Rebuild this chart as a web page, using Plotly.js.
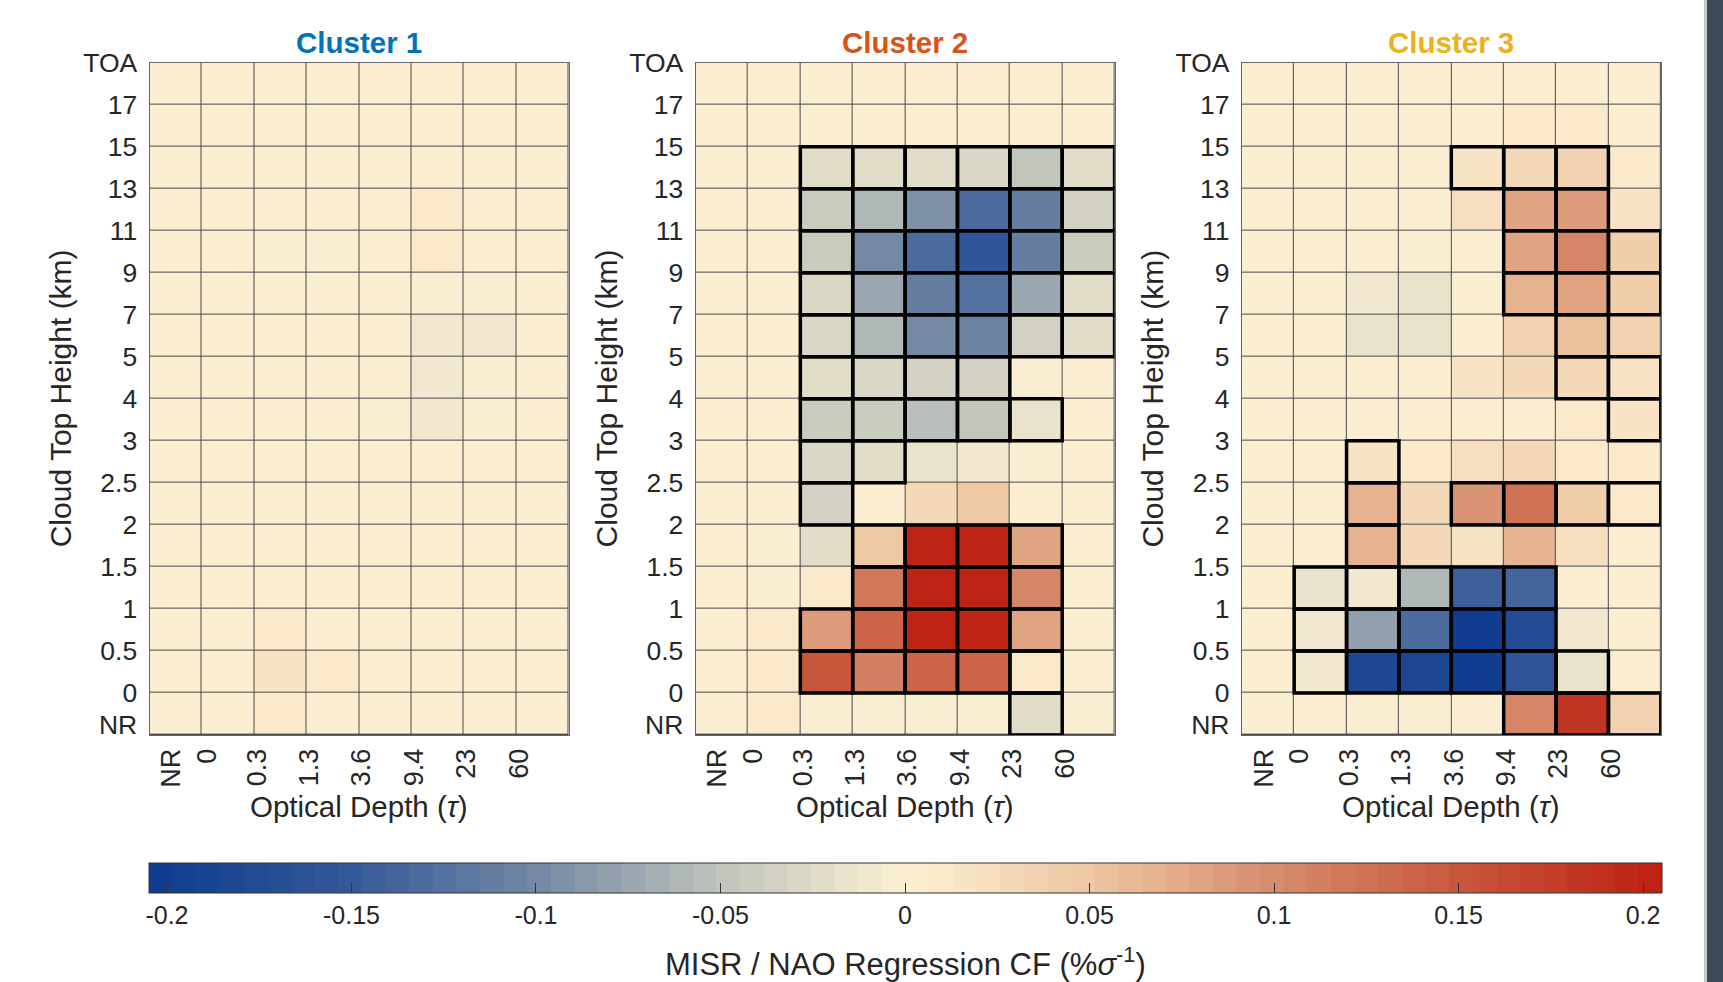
<!DOCTYPE html>
<html>
<head>
<meta charset="utf-8">
<script src="https://cdn.plot.ly/plotly-3.0.1.min.js"></script>
<style>
html,body{margin:0;padding:0;background:#ffffff;}
#chart{width:1723px;height:982px;}
</style>
</head>
<body>
<div id="chart"></div>
<script>
// ---------------- DATA ----------------
const tauLabels = ['NR','0','0.3','1.3','3.6','9.4','23','60'];
const heightLabels = ['NR','0','0.5','1','1.5','2','2.5','3','4','5','7','9','11','13','15','17','TOA'];
const clusterNames = ['Cluster 1','Cluster 2','Cluster 3'];
const clusterColors = ['#0072BD','#D95319','#EDB120'];
const colorbarTicks = [-0.2,-0.15,-0.1,-0.05,0,0.05,0.1,0.15,0.2];
const colorbarTickText = ['-0.2','-0.15','-0.1','-0.05','0','0.05','0.1','0.15','0.2'];
const colorbarTitle = 'MISR / NAO Regression CF (%<i>σ</i><sup>-1</sup>)';

// rows: bottom (NR) -> top (17-TOA); columns: NR, 0, 0.3, 1.3, 3.6, 9.4, 23, 60
const cluster1 = [
  [0.005,0.006,0.012,0.006,0.005,0.005,0.004,0.004],
  [0.005,0.006,0.015,0.008,0.006,0.005,0.004,0.004],
  [0.005,0.005,0.008,0.006,0.005,0.004,0.004,0.004],
  [0.005,0.005,0.006,0.005,0.005,0.004,0.004,0.004],
  [0.005,0.005,0.006,0.005,0.005,0.004,0.004,0.004],
  [0.005,0.005,0.006,0.006,0.006,0.005,0.004,0.004],
  [0.005,0.005,0.005,0.005,0.004,0.003,0.003,0.004],
  [0.005,0.004,0.003,0.002,-0.005,-0.012,-0.004,0.003],
  [0.005,0.004,0.003,0.002,0.000,-0.012,-0.006,0.003],
  [0.005,0.004,0.003,0.002,0.003,-0.008,-0.012,0.003],
  [0.005,0.004,0.003,0.003,0.004,-0.006,-0.006,0.003],
  [0.005,0.004,-0.006,-0.006,0.005,0.010,0.005,0.004],
  [0.005,0.005,0.004,0.004,0.005,0.007,0.005,0.005],
  [0.005,0.005,0.005,0.005,0.005,0.006,0.005,0.005],
  [0.005,0.005,0.005,0.005,0.005,0.005,0.005,0.005],
  [0.005,0.005,0.004,0.004,0.004,0.004,0.004,0.004]
];
const cluster1Sig = [
  [0,0,0,0,0,0,0,0],[0,0,0,0,0,0,0,0],[0,0,0,0,0,0,0,0],[0,0,0,0,0,0,0,0],
  [0,0,0,0,0,0,0,0],[0,0,0,0,0,0,0,0],[0,0,0,0,0,0,0,0],[0,0,0,0,0,0,0,0],
  [0,0,0,0,0,0,0,0],[0,0,0,0,0,0,0,0],[0,0,0,0,0,0,0,0],[0,0,0,0,0,0,0,0],
  [0,0,0,0,0,0,0,0],[0,0,0,0,0,0,0,0],[0,0,0,0,0,0,0,0],[0,0,0,0,0,0,0,0]
];

const cluster2 = [
  [0.003,0.008,-0.002,-0.002,-0.002,-0.003,-0.025,-0.003],
  [0.004,0.010,0.150,0.110,0.138,0.140,0.010,0.004],
  [0.004,0.008,0.085,0.135,0.200,0.200,0.077,0.004],
  [0.003,-0.006,0.008,0.120,0.200,0.200,0.105,0.004],
  [0.003,-0.006,-0.025,0.048,0.200,0.200,0.078,0.004],
  [0.004,0.004,-0.036,0.000,0.030,0.050,0.006,0.004],
  [0.004,0.004,-0.030,-0.020,-0.013,-0.008,-0.003,0.003],
  [0.004,0.004,-0.042,-0.040,-0.055,-0.045,-0.018,0.003],
  [0.004,0.004,-0.020,-0.030,-0.036,-0.037,-0.005,0.003],
  [0.004,0.004,-0.030,-0.062,-0.098,-0.108,-0.038,-0.023],
  [0.004,0.004,-0.030,-0.073,-0.115,-0.122,-0.072,-0.025],
  [0.004,0.004,-0.043,-0.100,-0.130,-0.155,-0.115,-0.042],
  [0.004,0.004,-0.040,-0.060,-0.090,-0.130,-0.115,-0.035],
  [0.005,0.005,-0.020,-0.020,-0.020,-0.030,-0.045,-0.022],
  [0.003,0.003,0.003,0.003,0.003,0.003,0.003,0.003],
  [0.004,0.004,0.004,0.004,0.004,0.004,0.004,0.004]
];
const cluster2Sig = [
  [0,0,0,0,0,0,1,0],
  [0,0,1,1,1,1,1,0],
  [0,0,1,1,1,1,1,0],
  [0,0,0,1,1,1,1,0],
  [0,0,0,1,1,1,1,0],
  [0,0,1,0,0,0,0,0],
  [0,0,1,1,0,0,0,0],
  [0,0,1,1,1,1,1,0],
  [0,0,1,1,1,1,0,0],
  [0,0,1,1,1,1,1,1],
  [0,0,1,1,1,1,1,1],
  [0,0,1,1,1,1,1,1],
  [0,0,1,1,1,1,1,1],
  [0,0,1,1,1,1,1,1],
  [0,0,0,0,0,0,0,0],
  [0,0,0,0,0,0,0,0]
];

const cluster3 = [
  [0.003,0.004,-0.002,-0.006,0.004,0.103,0.180,0.035],
  [0.003,-0.010,-0.185,-0.185,-0.200,-0.160,-0.015,0.003],
  [0.003,-0.010,-0.080,-0.133,-0.200,-0.175,-0.010,0.002],
  [0.003,-0.017,-0.010,-0.060,-0.145,-0.140,0.004,0.004],
  [0.004,0.005,0.066,0.027,0.018,0.066,0.024,0.006],
  [0.004,0.005,0.066,0.030,0.090,0.125,0.040,0.010],
  [0.004,0.005,0.018,0.008,0.024,0.030,0.012,0.009],
  [0.004,0.004,0.004,0.004,0.004,0.004,0.008,0.018],
  [0.004,0.004,0.004,0.004,0.013,0.028,0.028,0.014],
  [0.004,0.004,-0.017,-0.018,0.004,0.033,0.057,0.038],
  [0.003,0.004,-0.012,-0.016,0.002,0.070,0.077,0.040],
  [0.004,0.004,0.002,-0.004,0.004,0.078,0.105,0.042],
  [0.002,0.004,0.004,0.004,0.025,0.077,0.087,0.013],
  [0.004,0.004,0.004,0.004,0.018,0.032,0.038,0.010],
  [0.004,0.004,0.004,0.004,0.004,0.012,0.008,0.005],
  [0.004,0.004,0.004,0.004,0.004,0.005,0.004,0.004]
];
const cluster3Sig = [
  [0,0,0,0,0,1,1,1],
  [0,1,1,1,1,1,1,0],
  [0,1,1,1,1,1,0,0],
  [0,1,1,1,1,1,0,0],
  [0,0,1,0,0,0,0,0],
  [0,0,1,0,1,1,1,1],
  [0,0,1,0,0,0,0,0],
  [0,0,0,0,0,0,0,1],
  [0,0,0,0,0,0,1,1],
  [0,0,0,0,0,0,1,0],
  [0,0,0,0,0,1,1,1],
  [0,0,0,0,0,1,1,1],
  [0,0,0,0,0,1,1,0],
  [0,0,0,0,1,1,1,0],
  [0,0,0,0,0,0,0,0],
  [0,0,0,0,0,0,0,0]
];

const clusterValues = [cluster1, cluster2, cluster3];
const clusterSig = [cluster1Sig, cluster2Sig, cluster3Sig];

// ---------------- COLOR SCALE ----------------
const cMin = -0.205, cMax = 0.205;
const cbStops = [[-0.205,'#0e3b8f'],[-0.15,'#345999'],[-0.1,'#7488a4'],[-0.05,'#c0c4bc'],
                 [0,'#fdf1d4'],[0.05,'#eec7a3'],[0.1,'#d68c6d'],[0.15,'#c8573c'],[0.205,'#bd2010']];
function hexToRgb(h){return [parseInt(h.slice(1,3),16),parseInt(h.slice(3,5),16),parseInt(h.slice(5,7),16)];}
function colorAt(v){
  for(let i=0;i<cbStops.length-1;i++){
    const a=cbStops[i], b=cbStops[i+1];
    if(v<=b[0] || i===cbStops.length-2){
      const t=Math.max(0,Math.min(1,(v-a[0])/(b[0]-a[0])));
      const ca=hexToRgb(a[1]), cb=hexToRgb(b[1]);
      const c=ca.map((x,k)=>Math.round(x+(cb[k]-x)*t));
      return 'rgb('+c.join(',')+')';
    }
  }
}
const nBands = 64;
const colorscale = [];
for(let i=0;i<nBands;i++){
  const v = cMin + (i+0.5)*(cMax-cMin)/nBands;
  const c = colorAt(v);
  colorscale.push([i/nBands,c]);
  colorscale.push([(i+1)/nBands,c]);
}

// ---------------- LAYOUT ----------------
const W=1723, H=982;
const textColor = '#262626';
const fontFam = 'Liberation Sans, Arial, Helvetica, sans-serif';
const panelLeft = [149.5, 695.6, 1241.8];
const panelWidth = 419;
const plotTop = 62.6, plotBottom = 735;

const xIdx = tauLabels.map((_,i)=>i);
const yIdx = heightLabels.slice(0,-1).map((_,i)=>i);
// label anchor offsets (MATLAB places the first labels slightly inside)
const xTickVals = tauLabels.map((_,i)=> i===0 ? -0.08 : (i===1 ? 0.6 : i-0.45));
const yTickVals = heightLabels.map((_,i)=> i===0 ? -0.25 : i-0.5);

const traces = [];
const shapes = [];
const annotations = [];
const layout = {
  width: W, height: H,
  margin: {l:0,r:0,t:0,b:0},
  paper_bgcolor: '#ffffff',
  plot_bgcolor: '#4a4a4a',
  font: {family: fontFam, color: textColor, size: 26},
  showlegend: false,
  coloraxis: {
    cmin: cMin, cmax: cMax, colorscale: colorscale,
    colorbar: {
      orientation: 'h',
      x: (148.4+1661.6)/2/W, xanchor: 'center', xref: 'paper',
      y: 1-862.6/H, yanchor: 'top', yref: 'paper',
      len: (1661.6-148.4)/W, lenmode: 'fraction',
      thickness: 30, thicknessmode: 'pixels',
      xpad: 0, ypad: 0,
      outlinewidth: 1, outlinecolor: '#333333',
      ticks: 'inside', ticklen: 10, tickwidth: 1, tickcolor: '#333333',
      tickvals: colorbarTicks, ticktext: colorbarTickText,
      tickfont: {size: 25, color: textColor, family: fontFam}
    }
  },
  shapes: shapes,
  annotations: annotations
};

for(let p=0;p<3;p++){
  const sfx = p===0 ? '' : String(p+1);
  const xa = 'x'+sfx, ya = 'y'+sfx;
  traces.push({
    type: 'heatmap',
    x: xIdx, y: yIdx, z: clusterValues[p],
    coloraxis: 'coloraxis',
    xgap: 1, ygap: 1,
    xaxis: xa, yaxis: ya,
    hoverinfo: 'z'
  });
  const x0 = panelLeft[p]/W, x1 = (panelLeft[p]+panelWidth)/W;
  const axBase = {
    showgrid:false, zeroline:false, showline:true, mirror:true,
    linecolor:'#666666', linewidth:1, ticks:'', fixedrange:true
  };
  layout['xaxis'+sfx] = Object.assign({}, axBase, {
    domain:[x0,x1], anchor:ya, range:[-0.5, tauLabels.length-0.5],
    tickmode:'array', tickvals:xTickVals, ticktext:tauLabels, tickangle:-90,
    ticklabelstandoff: 2,
    tickfont:{size:27, color:textColor, family:fontFam}
  });
  layout['yaxis'+sfx] = Object.assign({}, axBase, {
    domain:[1-plotBottom/H, 1-plotTop/H], anchor:xa, range:[-0.5, heightLabels.length-1.5],
    tickmode:'array', tickvals:yTickVals, ticktext:heightLabels,
    ticklabelstandoff: 6,
    tickfont:{size:26.5, color:textColor, family:fontFam}
  });
  // significance outlines
  const sig = clusterSig[p];
  for(let r=0;r<sig.length;r++){
    for(let c=0;c<sig[r].length;c++){
      if(sig[r][c]){
        shapes.push({type:'rect', xref:xa, yref:ya, x0:c-0.5, x1:c+0.5, y0:r-0.5, y1:r+0.5,
          line:{color:'#000000', width:3.5}, fillcolor:'rgba(0,0,0,0)', layer:'above'});
      }
    }
  }
  const cx = (panelLeft[p]+panelWidth/2)/W;
  annotations.push({text:'<b>'+clusterNames[p]+'</b>', xref:'paper', yref:'paper', x:cx, y:1-43/H,
    xanchor:'center', yanchor:'middle', showarrow:false, font:{size:29.5, color:clusterColors[p], family:fontFam}});
  annotations.push({text:'Cloud Top Height (km)', xref:'paper', yref:'paper', x:(panelLeft[p]-89)/W, y:1-(plotTop+plotBottom)/2/H,
    xanchor:'center', yanchor:'middle', textangle:-90, showarrow:false, font:{size:30, color:textColor, family:fontFam}});
  annotations.push({text:'Optical Depth (<i>τ</i>)', xref:'paper', yref:'paper', x:cx, y:1-806.6/H,
    xanchor:'center', yanchor:'middle', showarrow:false, font:{size:29.5, color:textColor, family:fontFam}});
}

// colorbar title
annotations.push({text:colorbarTitle, xref:'paper', yref:'paper', x:(148.4+1661.6)/2/W, y:1-962/H,
  xanchor:'center', yanchor:'middle', showarrow:false, font:{size:31, color:textColor, family:fontFam}});

// window edge strip at the right
shapes.push({type:'rect', xref:'paper', yref:'paper', x0:1704/W, x1:1707/W, y0:0, y1:1, line:{width:0}, fillcolor:'#c9c9c9', layer:'above'});
shapes.push({type:'rect', xref:'paper', yref:'paper', x0:1707/W, x1:1, y0:0, y1:1, line:{width:0}, fillcolor:'#3f4858', layer:'above'});

Plotly.newPlot('chart', traces, layout, {staticPlot:true, displayModeBar:false});
</script>
</body>
</html>
